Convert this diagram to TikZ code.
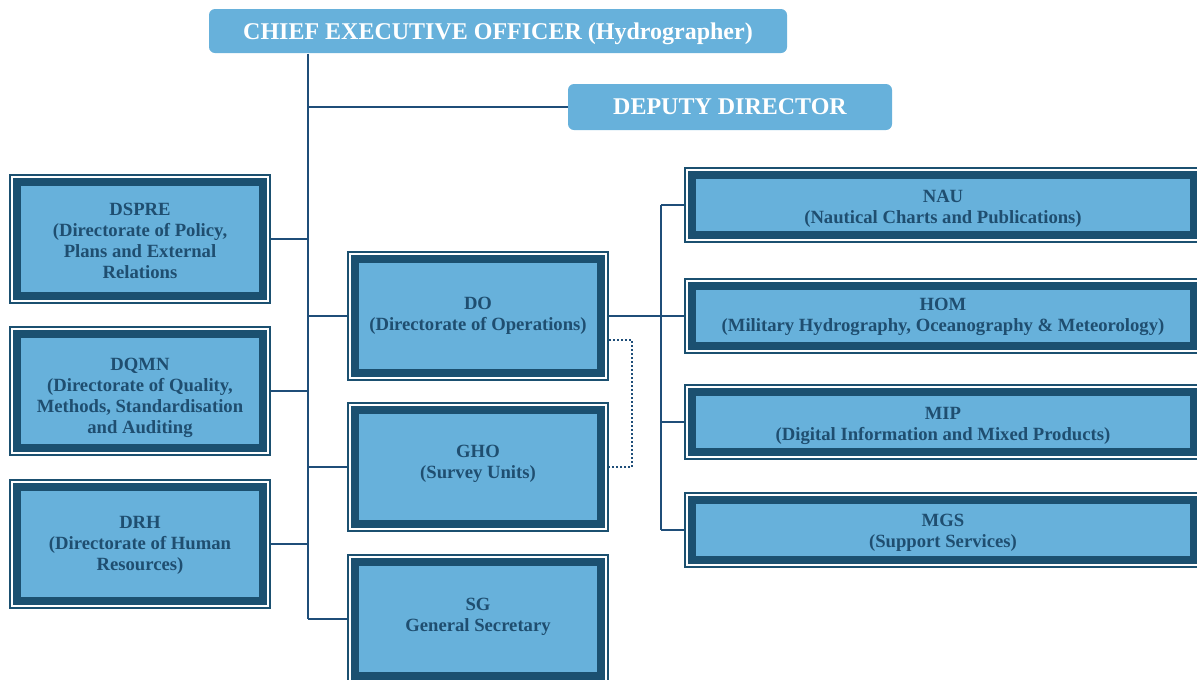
\documentclass[tikz,border=0pt]{standalone}
\usepackage{fontspec}
\setmainfont{Liberation Serif}
\definecolor{boxfill}{RGB}{103,177,219}
\definecolor{boxedge}{RGB}{27,80,112}
\definecolor{labeltext}{RGB}{31,78,112}
\definecolor{linkline}{RGB}{31,78,121}

\tikzset{every picture/.style={line width=0.75pt}}
\tikzset{
  unit/.style={rectangle, fill=boxfill, draw=boxedge, line width=5.5pt,
    preaction={draw=boxedge, line width=12pt},
    preaction={draw=white, line width=9pt},
    outer sep=6pt, inner sep=0pt},
  dirbox/.style={unit, minimum width=184.5pt, minimum height=85.3pt},
  secbox/.style={unit, minimum width=376.5pt, minimum height=45pt},
  unitlabel/.style={align=center, text=labeltext, inner sep=0pt,
    font=\fontsize{14}{15.75}\selectfont\bfseries},
  headbox/.style={rectangle, rounded corners=4.5pt, fill=boxfill, text=white,
    font=\fontsize{18}{20}\selectfont\bfseries, inner sep=0pt, text depth=0pt},
  link/.style={draw=linkline, line width=1.3pt},
  dotlink/.style={draw=linkline, line width=1.2pt, dash pattern={on 1.2pt off 1.8pt}}
}

\begin{document}
\begin{tikzpicture}[x=0.75pt,y=0.75pt,yscale=-1,xscale=1]
	\useasboundingbox (0,0) rectangle (1197,679);
	\clip (0,0) rectangle (1197,679);

	%Head boxes
	\node[headbox, minimum width=433.5pt, minimum height=33pt] (ceo) at (498,31) {CHIEF EXECUTIVE OFFICER (Hydrographer)};
	\node[headbox, minimum width=243pt, minimum height=34.5pt] (deputy) at (730,107) {DEPUTY DIRECTOR};

	%Directorates (left)
	\node[dirbox] (dspre) at (140,239) {};
	\node[dirbox] (dqmn) at (140,391) {};
	\node[dirbox] (drh) at (140,544) {};

	%Directorates (middle)
	\node[dirbox] (do) at (478,316) {};
	\node[dirbox] (gho) at (478,467) {};
	\node[dirbox] (sg) at (478,619) {};

	%Sections (right)
	\node[secbox] (nau) at (943,205) {};
	\node[secbox] (hom) at (943,316) {};
	\node[secbox] (mip) at (943,422) {};
	\node[secbox] (mgs) at (943,530) {};

	% Text Node
	\node[unitlabel] (dspre-text) at (140,241) {DSPRE\\(Directorate of Policy,\\Plans and External\\Relations};
	% Text Node
	\node[unitlabel] (dqmn-text) at (140,398) {DQMN\\(Directorate of Quality,\\Methods, Standardisation\\and Auditing};
	% Text Node
	\node[unitlabel] (drh-text) at (140,545.5) {DRH\\(Directorate of Human\\Resources)};
	% Text Node
	\node[unitlabel] (do-text) at (478,316) {DO\\(Directorate of Operations)};
	% Text Node
	\node[unitlabel] (gho-text) at (478,464) {GHO\\(Survey Units)};
	% Text Node
	\node[unitlabel] (sg-text) at (478,616.5) {SG\\General Secretary};
	% Text Node
	\node[unitlabel] (nau-text) at (943,208.5) {NAU\\(Nautical Charts and Publications)};
	% Text Node
	\node[unitlabel] (hom-text) at (943,317) {HOM\\(Military Hydrography, Oceanography \& Meteorology)};
	% Text Node
	\node[unitlabel] (mip-text) at (943,426) {MIP\\(Digital Information and Mixed Products)};
	% Text Node
	\node[unitlabel] (mgs-text) at (943,533) {MGS\\(Support Services)};

	%Trunk
	\coordinate (trunk) at (308,53);
	\draw[link] (ceo.south -| trunk) -- (sg.west -| trunk);
	\draw[link] (deputy.west -| trunk) -- (deputy.west);
	\foreach \n in {dspre,dqmn,drh} \draw[link] (\n.east) -- (\n.east -| trunk);
	\foreach \n in {do,gho,sg} \draw[link] (\n.west -| trunk) -- (\n.west);

	%Operations spine
	\coordinate (spine) at (661,0);
	\draw[link] (nau.west -| spine) -- (mgs.west -| spine);
	\foreach \n in {nau,mip,mgs} \draw[link] (\n.west -| spine) -- (\n.west);
	\draw[link] (do.east) -- (hom.west);

	%Dotted link
	\coordinate (bend) at (632,0);
	\draw[dotlink] ([yshift=18pt]do.east) -| (bend |- gho.east) -- (gho.east);

\end{tikzpicture}
\end{document}
